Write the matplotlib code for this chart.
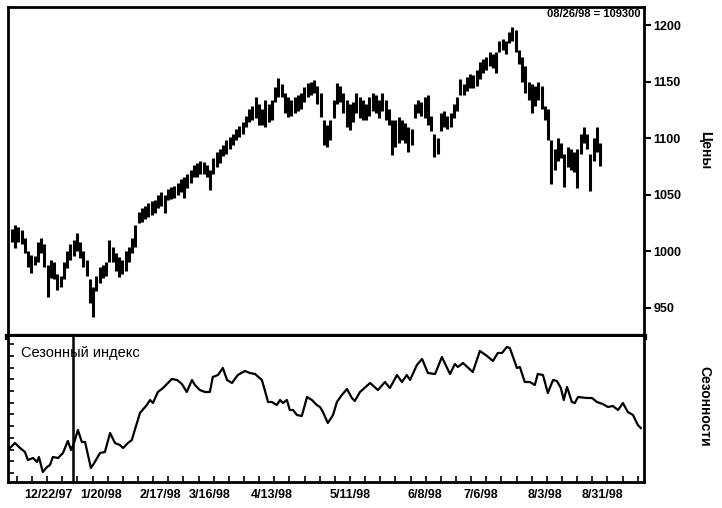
import matplotlib
matplotlib.use('AGG')
import numpy as np
import matplotlib.pyplot as plt

plt.rcParams['font.family'] = ['Liberation Sans', 'DejaVu Sans']

# daily bars, one per trading day (index 0 = first bar)
high = [1020, 1023, 1021, 1019, 1012, 1000, 997, 996, 1008, 1012,
        1006, 988, 992, 990, 980, 978, 990, 1000, 1006, 1010,
        1016, 1008, 1000, 992, 975, 968, 978, 986, 988, 990,
        1010, 1004, 998, 995, 992, 1000, 1004, 1012, 1023, 1035,
        1038, 1040, 1043, 1044, 1045, 1050, 1052, 1050, 1055, 1057,
        1058, 1060, 1064, 1066, 1068, 1072, 1076, 1078, 1080, 1079,
        1076, 1072, 1082, 1088, 1090, 1094, 1098, 1101, 1104, 1108,
        1111, 1114, 1120, 1126, 1128, 1136, 1130, 1126, 1134, 1130,
        1134, 1145, 1153, 1148, 1140, 1136, 1134, 1136, 1138, 1140,
        1145, 1149, 1150, 1151, 1146, 1140, 1116, 1112, 1116, 1134,
        1149, 1146, 1140, 1134, 1130, 1132, 1140, 1136, 1134, 1130,
        1136, 1140, 1138, 1134, 1140, 1134, 1126, 1116, 1116, 1119,
        1116, 1113, 1110, 1108, 1130, 1134, 1132, 1136, 1138, 1120,
        1104, 1100, 1122, 1124, 1120, 1122, 1130, 1136, 1152, 1148,
        1154, 1157, 1156, 1160, 1167, 1170, 1172, 1176, 1174, 1176,
        1186, 1188, 1186, 1194, 1198, 1196, 1178, 1172, 1164, 1150,
        1148, 1146, 1150, 1146, 1128, 1126, 1098, 1090, 1100, 1096,
        1086, 1092, 1090, 1088, 1090, 1104, 1110, 1104, 1086, 1100,
        1110, 1096]
low = [1008, 1003, 1008, 1006, 998, 986, 981, 988, 990, 998,
       986, 959, 976, 975, 966, 968, 975, 985, 992, 996,
       1000, 994, 986, 978, 954, 942, 965, 972, 976, 978,
       990, 990, 982, 977, 980, 982, 990, 998, 1004, 1025,
       1026, 1028, 1030, 1032, 1034, 1038, 1040, 1034, 1045, 1046,
       1047, 1050, 1052, 1047, 1056, 1060, 1066, 1066, 1068, 1068,
       1066, 1054, 1068, 1074, 1078, 1084, 1086, 1090, 1094, 1098,
       1101, 1104, 1110, 1114, 1116, 1118, 1112, 1112, 1110, 1114,
       1116, 1132, 1136, 1136, 1122, 1119, 1120, 1122, 1124, 1126,
       1132, 1136, 1138, 1140, 1130, 1119, 1094, 1092, 1098, 1118,
       1130, 1132, 1122, 1110, 1107, 1114, 1122, 1118, 1116, 1116,
       1120, 1124, 1122, 1118, 1124, 1116, 1112, 1085, 1092, 1096,
       1098, 1096, 1088, 1094, 1118, 1122, 1120, 1118, 1112, 1106,
       1083, 1086, 1106, 1110, 1108, 1110, 1118, 1124, 1138, 1138,
       1142, 1144, 1144, 1146, 1152, 1158, 1160, 1164, 1162, 1158,
       1176, 1178, 1174, 1184, 1186, 1176, 1166, 1150, 1140, 1134,
       1122, 1128, 1134, 1126, 1116, 1098, 1059, 1072, 1080, 1082,
       1057, 1074, 1072, 1070, 1056, 1086, 1096, 1090, 1053, 1080,
       1088, 1075]
close = [1015, 1018, 1012, 1010, 1001, 990, 994, 992, 1005, 1002,
         990, 978, 988, 980, 970, 975, 987, 995, 1003, 1005,
         1006, 998, 990, 982, 968, 962, 975, 980, 984, 987,
         1000, 995, 990, 985, 988, 995, 1000, 1008, 1016, 1030,
         1033, 1036, 1038, 1040, 1042, 1046, 1048, 1044, 1050, 1052,
         1054, 1056, 1058, 1060, 1064, 1068, 1072, 1074, 1076, 1074,
         1070, 1062, 1078, 1084, 1086, 1090, 1094, 1097, 1100, 1104,
         1108, 1110, 1116, 1120, 1124, 1126, 1118, 1120, 1128, 1122,
         1128, 1140, 1146, 1140, 1128, 1126, 1128, 1130, 1132, 1134,
         1140, 1144, 1146, 1145, 1136, 1126, 1104, 1100, 1110, 1128,
         1140, 1138, 1130, 1120, 1118, 1126, 1132, 1126, 1124, 1122,
         1130, 1134, 1128, 1126, 1132, 1122, 1118, 1100, 1104, 1106,
         1108, 1104, 1100, 1102, 1126, 1128, 1126, 1130, 1120, 1110,
         1090, 1094, 1116, 1118, 1114, 1118, 1126, 1132, 1146, 1144,
         1150, 1152, 1150, 1154, 1162, 1166, 1168, 1170, 1168, 1170,
         1182, 1184, 1180, 1190, 1192, 1180, 1170, 1160, 1148, 1140,
         1132, 1140, 1144, 1134, 1122, 1106, 1074, 1084, 1090, 1088,
         1066, 1082, 1080, 1078, 1076, 1096, 1104, 1098, 1072, 1092,
         1098, 1093]

# seasonal index, read at trading-day positions
season_day = [-1.2, 0.9, 2.5, 4.0, 4.9, 6.5, 7.7, 8.3, 9.5, 10.8,
              11.7, 12.6, 14.2, 15.7, 17.2, 18.2, 19.1, 20.3, 21.5, 22.5,
              24.3, 25.5, 27.1, 28.6, 30.2, 31.7, 33.2, 34.2, 35.7, 36.9,
              37.8, 39.4, 41.5, 42.5, 43.4, 44.9, 46.5, 48.0, 49.2, 50.8,
              52.3, 53.8, 55.4, 56.3, 57.8, 59.4, 60.9, 61.8, 63.4, 64.9,
              66.2, 67.7, 69.5, 71.7, 73.2, 74.8, 76.9, 77.8, 78.8, 80.0,
              81.5, 82.5, 83.4, 84.6, 85.5, 86.5, 87.7, 89.2, 90.8, 92.3,
              93.8, 94.8, 95.7, 97.2, 98.8, 100.0, 101.5, 103.1, 104.6, 105.5,
              107.1, 110.2, 112.6, 114.8, 116.3, 118.5, 120.0, 121.5, 122.5, 124.6,
              126.2, 128.0, 130.2, 132.3, 134.8, 136.3, 137.2, 138.8, 141.8, 144.0,
              146.2, 148.0, 149.5, 150.8, 152.3, 153.2, 154.2, 155.4, 156.3, 157.8,
              159.4, 160.9, 161.8, 163.4, 164.9, 166.5, 167.7, 168.9, 169.8, 170.8,
              172.3, 173.2, 174.2, 176.9, 178.5, 180.0, 181.8, 183.4, 184.9, 186.5,
              188.0, 189.5, 191.1, 192.6, 193.5]
season_val = [32, 39, 34, 30, 22, 24, 20, 25, 10, 15,
              17, 25, 24, 29, 41, 32, 39, 52, 40, 40,
              14, 20, 29, 30, 49, 39, 37, 34, 39, 42,
              52, 69, 77, 82, 79, 90, 94, 99, 103, 102,
              98, 90, 102, 97, 92, 90, 90, 105, 107, 114,
              102, 99, 107, 111, 109, 108, 102, 92, 80, 80,
              77, 82, 79, 82, 72, 72, 67, 66, 85, 82,
              77, 75, 70, 59, 67, 80, 87, 93, 84, 81,
              90, 99, 92, 100, 94, 107, 100, 107, 102, 117,
              123, 109, 108, 125, 108, 118, 115, 119, 110, 131,
              126, 121, 129, 129, 135, 134, 125, 114, 115, 100,
              100, 97, 108, 107, 89, 102, 101, 94, 82, 95,
              80, 79, 85, 84, 84, 80, 78, 75, 76, 72,
              79, 70, 67, 57, 54]

date_labels = ['12/22/97', '1/20/98', '2/17/98', '3/16/98', '4/13/98',
               '5/11/98', '6/8/98', '7/6/98', '8/3/98', '8/31/98']
date_pos = [11.1, 27.5, 45.8, 60.9, 80.0, 104.0, 127.1, 144.3, 164.0, 181.8]
marker_day = 18.8
last_note = '08/26/98 = 109300'

days = np.arange(len(close))
xmin, xmax = -1.23, 194.5

fig = plt.figure(figsize=(7.22, 5.08), dpi=100)
ax1 = fig.add_axes([0.011, 0.3366, 0.881, 0.6496])
ax2 = fig.add_axes([0.011, 0.0512, 0.881, 0.2854])

# price bars
ax1.vlines(days, low, high, color='black', linewidth=2.2)
ax1.hlines(close, days, days + 0.6, color='black', linewidth=1.6)
ax1.set_xlim(xmin, xmax)
ax1.set_ylim(924, 1216)
ax1.yaxis.tick_right()
ax1.set_yticks([950, 1000, 1050, 1100, 1150, 1200])
ax1.tick_params(axis='y', direction='out', length=5, width=1.5, pad=2,
                labelsize=9)
for t in ax1.get_yticklabels():
    t.set_fontweight('bold')
ax1.set_xticks([])
for s in ['left', 'top', 'right']:
    ax1.spines[s].set_linewidth(2)
ax1.spines['bottom'].set_linewidth(4.5)
ax1.text(0.995, 0.993, last_note, transform=ax1.transAxes, ha='right',
         va='top', fontsize=8, fontweight='bold')

# seasonal index
ax2.plot(season_day, season_val, color='black', linewidth=1.6)
ax2.axvline(marker_day, color='black', linewidth=1.8, zorder=5)
ax2.set_xlim(xmin, xmax)
ax2.set_ylim(0, 145)
ax2.set_yticks(np.arange(9, 145, 11.7))
ax2.set_yticklabels([])
ax2.tick_params(axis='y', direction='in', length=4, width=1.2)
ax2.set_xticks(date_pos)
ax2.set_xticklabels(date_labels, fontsize=9, fontweight='bold')
ax2.set_xticks(np.arange(1.5, 194, 4.66), minor=True)
ax2.tick_params(axis='x', which='major', length=0, pad=5)
ax2.tick_params(axis='x', which='minor', direction='in', length=4, width=1.2)
for s in ['left', 'bottom', 'right']:
    ax2.spines[s].set_linewidth(2)
ax2.spines['top'].set_visible(False)
ax2.text(0.02, 0.935, 'Сезонный индекс', transform=ax2.transAxes,
         ha='left', va='top', fontsize=10.5, zorder=2)

fig.text(0.976, 0.705, 'Цены', rotation=270, ha='center', va='center',
         fontsize=10, fontweight='bold')
fig.text(0.976, 0.201, 'Сезонности', rotation=270, ha='center',
         va='center', fontsize=10, fontweight='bold')

plt.savefig('out.png', dpi=100)
